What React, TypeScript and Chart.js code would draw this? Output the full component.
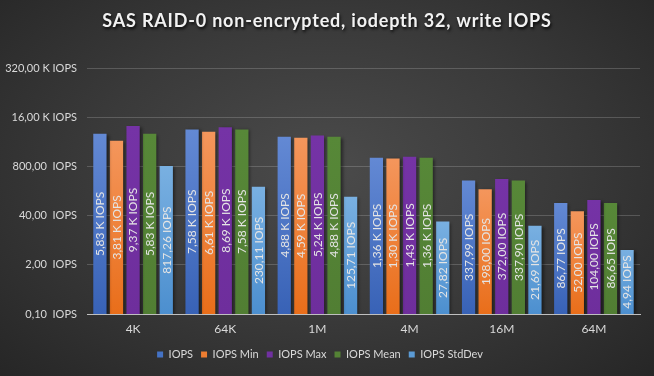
import React, { useEffect, useRef } from "react";
import { Chart, registerables } from "chart.js";

Chart.register(...registerables);

const titleText = "SAS RAID-0 non-encrypted, iodepth 32, write IOPS";
const categories = ["4K", "64K", "1M", "4M", "16M", "64M"];
const iops = [5830, 7580, 4880, 1360, 337.99, 86.77];
const iopsMin = [3810, 6610, 4590, 1300, 198, 52];
const iopsMax = [9370, 8690, 5240, 1430, 372, 104];
const iopsMean = [5830, 7580, 4880, 1360, 337.9, 86.65];
const iopsStdDev = [817.26, 230.11, 125.71, 27.82, 21.69, 4.94];
const yTicks = [0.1, 2, 40, 800, 16000, 320000];

const seriesNames = ["IOPS", "IOPS Min", "IOPS Max", "IOPS Mean", "IOPS StdDev"];
const seriesData = [iops, iopsMin, iopsMax, iopsMean, iopsStdDev];
const seriesTop = ["#6389d4", "#f4965c", "#7533a6", "#578838", "#79b0e1"];
const seriesBottom = ["#3862b6", "#e96e1a", "#6e2e9c", "#517e33", "#4c8fcf"];
const legendColors = ["#4472c4", "#ed7d31", "#7030a0", "#548235", "#5b9bd5"];

const FONT = "Lato, 'Open Sans', sans-serif";

const fmt = (v: number, sep: string) => {
  if (v >= 1000) return (v / 1000).toFixed(2).replace(".", ",") + " K IOPS";
  return v.toFixed(2).replace(".", ",") + sep + "IOPS";
};

const titlePlugin = {
  id: "shadowTitle",
  afterDraw(chart: any) {
    const ctx = chart.ctx;
    ctx.save();
    ctx.font = `bold 18px ${FONT}`;
    try {
      (ctx as any).letterSpacing = "0.8px";
    } catch (e) {}
    ctx.fillStyle = "#f2f2f2";
    ctx.shadowColor = "rgba(0,0,0,0.85)";
    ctx.shadowOffsetX = 1;
    ctx.shadowOffsetY = 2;
    ctx.shadowBlur = 3;
    ctx.textAlign = "center";
    ctx.textBaseline = "middle";
    ctx.fillText(titleText, chart.width / 2, 21);
    ctx.restore();
  },
};

const barShadowAndLabels = {
  id: "barShadowAndLabels",
  beforeDatasetsDraw(chart: any) {
    const ctx = chart.ctx;
    ctx.save();
    ctx.shadowColor = "rgba(0,0,0,0.45)";
    ctx.shadowOffsetX = 2;
    ctx.shadowOffsetY = 1;
    ctx.shadowBlur = 3;
  },
  afterDatasetsDraw(chart: any) {
    const ctx = chart.ctx;
    ctx.restore();
    ctx.save();
    ctx.font = `12px ${FONT}`;
    ctx.fillStyle = "#e4e4e4";
    ctx.textAlign = "center";
    ctx.textBaseline = "middle";
    chart.data.datasets.forEach((ds: any, di: number) => {
      const meta = chart.getDatasetMeta(di);
      meta.data.forEach((el: any, i: number) => {
        const v = ds.data[i];
        const cy = (el.y + el.base) / 2;
        ctx.save();
        ctx.translate(el.x + 0.5, cy);
        ctx.rotate(-Math.PI / 2);
        ctx.fillText(fmt(v, " "), 0, 0);
        ctx.restore();
      });
    });
    ctx.restore();
  },
};

export default function App() {
  const ref = useRef<HTMLCanvasElement | null>(null);

  useEffect(() => {
    if (!ref.current) return;
    const datasets = seriesNames.map((name, si) => ({
      label: name,
      data: seriesData[si],
      backgroundColor: (c: any) => {
        const chart = c.chart;
        const area = chart.chartArea;
        if (!area || c.type !== "data") return seriesTop[si];
        const y = chart.scales.y.getPixelForValue(c.raw);
        const g = chart.ctx.createLinearGradient(0, y, 0, area.bottom);
        g.addColorStop(0, seriesTop[si]);
        g.addColorStop(1, seriesBottom[si]);
        return g;
      },
      borderWidth: 0,
      categoryPercentage: 0.9,
      barPercentage: 0.8,
    }));

    const chart = new Chart(ref.current, {
      type: "bar",
      data: { labels: categories, datasets },
      plugins: [titlePlugin, barShadowAndLabels],
      options: {
        animation: false,
        responsive: false,
        maintainAspectRatio: false,
        layout: { padding: { top: 68, right: 14, left: 0, bottom: 6 } },
        plugins: {
          title: { display: false },
          tooltip: { enabled: false },
          legend: {
            display: true,
            position: "bottom",
            labels: {
              color: "#d9d9d9",
              font: { family: FONT, size: 11 },
              boxWidth: 6,
              boxHeight: 6,
              padding: 8,
              generateLabels: (chart: any) =>
                chart.data.datasets.map((ds: any, i: number) => ({
                  text: ds.label,
                  fillStyle: legendColors[i],
                  strokeStyle: "rgba(0,0,0,0)",
                  lineWidth: 0,
                  hidden: false,
                  datasetIndex: i,
                  fontColor: "#d9d9d9",
                })),
            },
          },
        },
        scales: {
          x: {
            grid: { display: false, drawTicks: false },
            border: { display: true, color: "#bfbfbf", width: 1 },
            afterFit: (scale: any) => {
              scale.height = 27;
            },
            ticks: {
              color: "#d9d9d9",
              font: { family: FONT, size: 12 },
              padding: 8,
            },
          },
          y: {
            type: "logarithmic",
            min: 0.1,
            max: 320000,
            afterBuildTicks: (scale: any) => {
              scale.ticks = yTicks.map((v) => ({ value: v }));
            },
            afterFit: (scale: any) => {
              scale.width = 87;
            },
            grid: {
              color: "rgba(217,217,217,0.22)",
              drawTicks: false,
              lineWidth: 1,
            },
            border: { display: false },
            ticks: {
              color: "#d9d9d9",
              font: { family: FONT, size: 11 },
              padding: 10,
              autoSkip: false,
              callback: (v: any) => fmt(Number(v), "  "),
            },
          },
        },
      },
    } as any);
    return () => chart.destroy();
  }, []);

  return (
    <div
      style={{
        position: "fixed",
        left: 0,
        top: 0,
        width: 654,
        height: 376,
        background: "radial-gradient(ellipse at 50% 45%, #4b4b4b 0%, #3a3a3a 50%, #262626 100%)",
      }}
    >
      <canvas ref={ref} width={654} height={376} style={{ display: "block" }} />
    </div>
  );
}
